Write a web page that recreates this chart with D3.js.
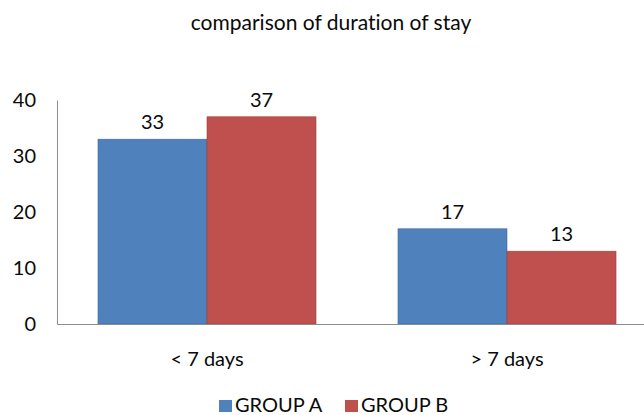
<!DOCTYPE html>
<html>
<head>
<meta charset="utf-8">
<script src="https://cdn.jsdelivr.net/npm/d3@7"></script>
<style>
  body { margin: 0; background: #fff; }
  svg { display: block; font-family: Lato, "Open Sans", sans-serif; font-variant-ligatures: none; }
  text { font-variant-ligatures: none; }
</style>
</head>
<body>
<svg id="chart" width="644" height="415"></svg>
<script>
// Duration of stay, patients per group
const categories = ["< 7 days", "> 7 days"];
const seriesNames = ["GROUP A", "GROUP B"];
const groupA = [33, 17];
const groupB = [37, 13];
const yTicks = [0, 10, 20, 30, 40];
const colors = ["#4F81BD", "#C0504D"];

const svg = d3.select("#chart");
const x0 = 57, x1 = 657, yTop = 100, yBottom = 324;

const x = d3.scaleBand().domain(categories).range([x0, x1]).paddingInner(0).paddingOuter(0);
const xs = d3.scaleBand().domain(seriesNames).range([0, x.bandwidth()]).paddingInner(0).paddingOuter(0.376);
const y = d3.scaleLinear().domain([0, 40]).range([yBottom, yTop]);

const ink = "#0a0a0a";

// Title
svg.append("text")
  .attr("x", 331).attr("y", 30)
  .attr("text-anchor", "middle")
  .attr("font-size", 21)
  .attr("fill", ink)
  .text("comparison of duration of stay");

// Y axis
const yAxis = svg.append("g")
  .attr("transform", `translate(${x0},0)`)
  .call(d3.axisLeft(y).tickValues(yTicks).tickSize(0).tickPadding(21));
yAxis.select(".domain").attr("stroke", "#8c8c8c").attr("stroke-width", 1);
yAxis.selectAll("text").attr("font-size", 20).attr("fill", ink).attr("font-family", "Lato, sans-serif");

// Bars with value labels
const rows = categories.map((c, i) => ({ cat: c, values: [groupA[i], groupB[i]] }));
const g = svg.append("g");
rows.forEach(r => {
  r.values.forEach((v, j) => {
    const bx = x(r.cat) + xs(seriesNames[j]);
    g.append("rect")
      .attr("x", bx).attr("y", y(v))
      .attr("width", xs.bandwidth())
      .attr("height", y(0) - y(v))
      .attr("fill", colors[j])
      .attr("stroke", d3.color(colors[j]).darker(0.6))
      .attr("stroke-width", 0.6);
    g.append("text")
      .attr("x", bx + xs.bandwidth() / 2)
      .attr("y", y(v) - 10)
      .attr("text-anchor", "middle")
      .attr("font-size", 20)
      .attr("fill", ink)
      .text(v);
  });
});

// X axis
const xAxis = svg.append("g")
  .attr("transform", `translate(0,${yBottom})`)
  .call(d3.axisBottom(x).tickSize(0).tickPadding(28));
xAxis.select(".domain").attr("stroke", "#8c8c8c").attr("stroke-width", 1.2);
xAxis.selectAll("text").attr("font-size", 20).attr("fill", ink).attr("font-family", "Lato, sans-serif");

// Legend
const legend = svg.append("g");
const legendX = [219, 345];
seriesNames.forEach((n, i) => {
  legend.append("rect")
    .attr("x", legendX[i]).attr("y", 400)
    .attr("width", 13).attr("height", 12)
    .attr("fill", colors[i]);
  legend.append("text")
    .attr("x", legendX[i] + 16).attr("y", 412)
    .attr("font-size", 20)
    .attr("fill", ink)
    .text(n);
});
</script>
</body>
</html>
